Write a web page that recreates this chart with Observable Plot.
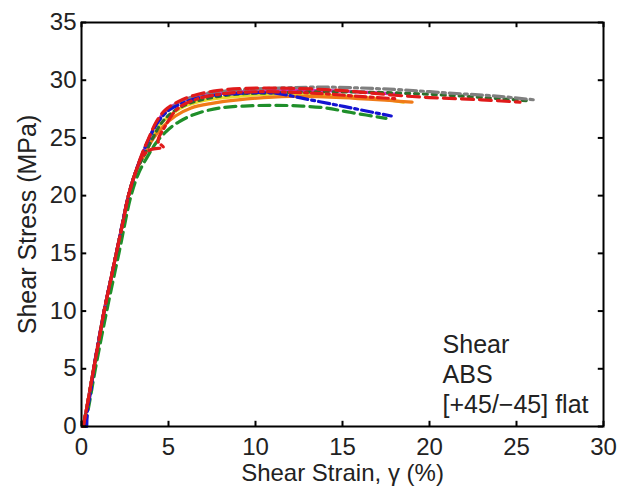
<!DOCTYPE html>
<html><head><meta charset="utf-8">
<script src="https://cdn.jsdelivr.net/npm/d3@7"></script>
<script src="https://cdn.jsdelivr.net/npm/@observablehq/plot@0.6"></script>
<style>body{margin:0;background:#fff} svg{display:block}</style>
</head><body><div id="chart"></div>
<script>
const xTicks = [0, 5, 10, 15, 20, 25, 30];
const yTicks = [0, 5, 10, 15, 20, 25, 30, 35];
const xLabel = "Shear Strain, γ (%)";
const yLabel = "Shear Stress (MPa)";
const note = "Shear\nABS\n[+45/−45] flat";

// [strain %, stress MPa]
const elastic = [[0.1,0],[0.35,2],[0.7,5],[1.0,7.5],[1.3,10],[1.65,12.5],[2.0,15],[2.35,17.5],[2.7,20],[3.1,22]];
const yellowSolid = [[3.6,23.6],[4.1,25.1],[4.6,26.3],[5.2,27.1],[6.0,27.8],[7.2,28.3],[9,28.6],[11,28.8],[14,28.7],[17,28.4],[18.5,28.1]];
const orangeSolid = [[3.6,23.5],[4.1,24.9],[4.7,26.0],[5.4,26.9],[6.3,27.6],[7.5,28.0],[9,28.3],[12,28.6],[15,28.5],[18,28.2],[19,28.1]];
const magentaSolid = [[3.5,23.6],[3.9,25.0],[4.3,26.3],[4.9,27.4],[5.6,28.1],[6.6,28.6],[8,28.9],[11,29.1],[14,29.1],[17,28.9],[18,28.8]];
const darkGreenDotted = [[3.6,23.5],[4.1,25.0],[4.6,26.3],[5.3,27.3],[6.2,28.0],[7.5,28.5],[9,28.8],[11,28.9],[14,29.0],[18,28.9],[21,28.7],[24,28.4],[25.8,28.2]];
const grayDashDot = [[3.5,23.6],[3.9,25.0],[4.4,26.4],[5,27.4],[5.8,28.2],[7,28.8],[8.5,29.1],[11,29.3],[14,29.4],[18,29.2],[21,28.9],[24,28.6],[26,28.3]];
const greenDashed = [[0.2,0],[0.45,2],[0.8,5],[1.45,10],[2.15,15],[2.85,20],[3.3,22],[3.8,23.4],[4.3,24.6],[4.9,25.6],[5.6,26.4],[6.6,27.1],[8,27.6],[10,27.8],[12,27.8],[14,27.6],[15.5,27.2],[17.5,26.7]];
const blueDashDot = [[0.3,0],[0.35,1.5],[0.55,3.2],[0.7,5],[1.3,10],[2.0,15],[2.7,20],[3.1,22],[3.5,23.6],[3.9,25.0],[4.4,26.4],[5,27.4],[5.8,28.0],[6.8,28.5],[8.5,28.8],[11,28.9],[12.8,28.4],[14.5,27.9],[15.5,27.6],[16.8,27.2],[17.8,26.9]];
const redDashDot = [[3.5,23.4],[4.0,24.0],[4.7,24.2],[4.4,24.7],[4.8,26.0],[5.5,27.5],[6.5,28.3],[8,28.8],[10,29.0],[13,28.9],[16,28.6],[18,28.4]];
const redDashed = [[3.5,23.7],[3.9,25.1],[4.3,26.4],[4.8,27.4],[5.5,28.1],[6.5,28.7],[7.8,29.1],[9.5,29.3],[12,29.3],[15,29.1],[18,28.7],[20,28.5],[23,28.3],[25.2,28.1]];

const series = [
  {pts: yellowSolid, base: true, stroke: "#e6dc2a", dash: null},
  {pts: orangeSolid, base: true, stroke: "#f07a18", dash: null},
  {pts: magentaSolid, base: true, stroke: "#d22cc0", dash: null},
  {pts: darkGreenDotted, base: true, stroke: "#2c6e2c", dash: "4,5"},
  {pts: grayDashDot, base: true, stroke: "#7f7f7f", dash: "11,4,3,4"},
  {pts: greenDashed, base: false, stroke: "#1f8f2a", dash: "11,6"},
  {pts: blueDashDot, base: false, stroke: "#1414d2", dash: "11,4,3,4"},
  {pts: redDashDot, base: true, stroke: "#e01a1a", dash: "11,4,3,4"},
  {pts: redDashed, base: true, stroke: "#e01a1a", dash: "12,6"}
];

const lineMarks = series.map(s => {
  const pts = (s.base ? elastic.concat(s.pts) : s.pts).map(([strain, stress]) => ({strain, stress}));
  return Plot.line(pts, {x: "strain", y: "stress", stroke: s.stroke, strokeWidth: 3.2, strokeDasharray: s.dash, curve: "catmull-rom"});
});

const chart = Plot.plot({
  width: 624, height: 487,
  marginLeft: 81, marginRight: 21, marginTop: 22, marginBottom: 61,
  style: {fontFamily: "Liberation Sans, Arial, Helvetica, sans-serif", fontSize: "24px", color: "#222", background: "#fff"},
  x: {domain: [0, 30], axis: null},
  y: {domain: [0, 35], axis: null},
  marks: [
    ...lineMarks,
    Plot.frame({stroke: "#000", strokeWidth: 2}),
    Plot.ruleX(xTicks, {x: d => d, y1: 0, y2: 0.45, stroke: "#000", strokeWidth: 2}),
    Plot.ruleX(xTicks, {x: d => d, y1: 34.55, y2: 35, stroke: "#000", strokeWidth: 2}),
    Plot.ruleY(yTicks, {y: d => d, x1: 0, x2: 0.3, stroke: "#000", strokeWidth: 2}),
    Plot.ruleY(yTicks, {y: d => d, x1: 29.7, x2: 30, stroke: "#000", strokeWidth: 2}),
    Plot.axisX(xTicks, {tickSize: 0, tickPadding: 11, fontSize: 24, label: null, tickFormat: d => String(d)}),
    Plot.axisY(yTicks, {tickSize: 0, tickPadding: 5, fontSize: 24, label: null, tickFormat: d => String(d)}),
    Plot.text([xLabel], {frameAnchor: "bottom", textAnchor: "middle", lineAnchor: "middle", dy: 47, fontSize: 24, fill: "#222"}),
    Plot.text([yLabel], {frameAnchor: "left", textAnchor: "middle", lineAnchor: "middle", dx: -54, rotate: -90, fontSize: 25, fill: "#222"}),
    Plot.text([note], {x: 20.75, y: 4.6, textAnchor: "start", lineAnchor: "middle", lineHeight: 1.2, fontSize: 25, fill: "#222"})
  ]
});
document.getElementById("chart").appendChild(chart);
</script>
</body></html>
